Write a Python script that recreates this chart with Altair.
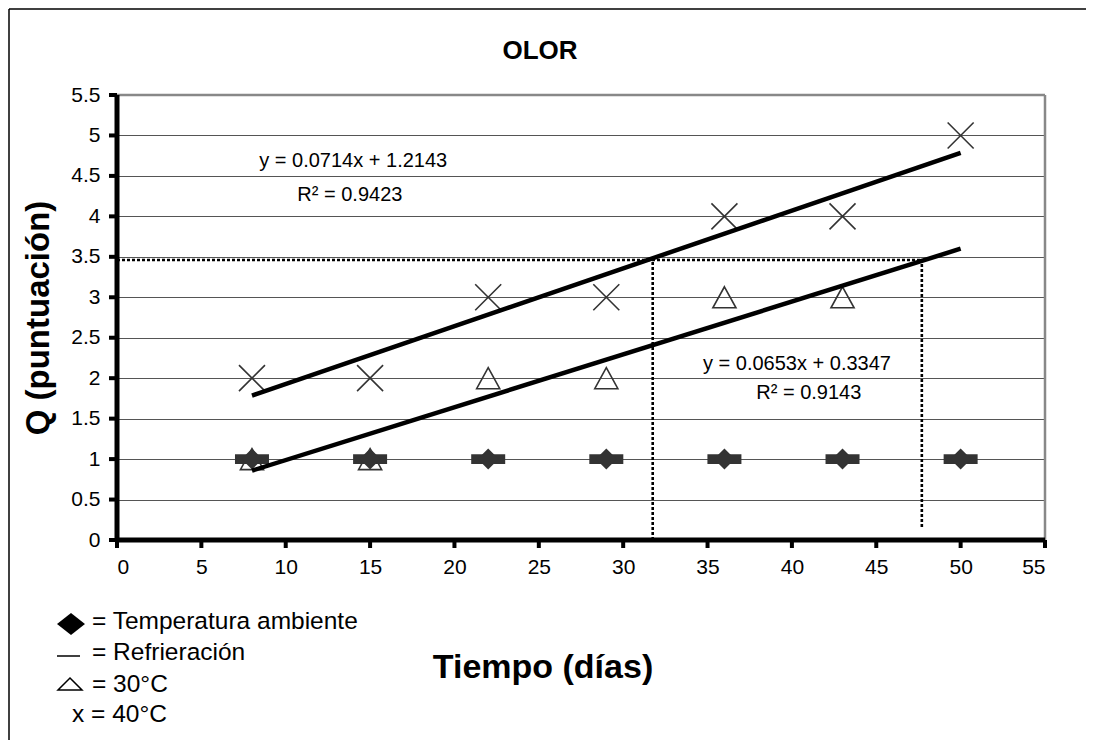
import altair as alt
import pandas as pd

# ---- data ----
dias = [8, 15, 22, 29, 36, 43, 50]
q_ambiente = [1, 1, 1, 1, 1, 1, 1]
q_refrigeracion = [1, 1, 1, 1, 1, 1, 1]
dias_30 = [8, 15, 22, 29, 36, 43]
q_30 = [1, 1, 2, 2, 3, 3]
dias_40 = [8, 15, 22, 29, 36, 43, 50]
q_40 = [2, 2, 3, 3, 4, 4, 5]

x_ticks = [0, 5, 10, 15, 20, 25, 30, 35, 40, 45, 50, 55]
y_ticks = [0, 0.5, 1, 1.5, 2, 2.5, 3, 3.5, 4, 4.5, 5, 5.5]

eq_labels = ["y = 0.0714x + 1.2143", "R² = 0.9423", "y = 0.0653x + 0.3347", "R² = 0.9143"]
eq_x = [14.0, 13.8, 40.3, 41.0]
eq_y = [4.68, 4.26, 2.18, 1.82]

guide_x = [0, 31.75, 47.7]
guide_x2 = [47.7, 31.75, 47.7]
guide_y = [3.46, 0, 0.16]
guide_y2 = [3.46, 3.46, 3.46]

x_min, x_max = 0, 55
y_min, y_max = 0, 5.5

legend_labels = ["= Temperatura ambiente", "= Refrieración", "= 30°C", "x = 40°C"]

FONT = "Liberation Sans"
DARK = "#333333"

df_amb = pd.DataFrame({"dia": dias, "q": q_ambiente})
df_ref = pd.DataFrame({"dia": dias, "q": q_refrigeracion})
df_30 = pd.DataFrame({"dia": dias_30, "q": q_30})
df_40 = pd.DataFrame({"dia": dias_40, "q": q_40})
df_eq = pd.DataFrame({"t": eq_labels, "x": eq_x, "y": eq_y})
df_guide = pd.DataFrame({"x": guide_x, "x2": guide_x2, "y": guide_y, "y2": guide_y2})
df_xt = pd.DataFrame({"v": x_ticks})
df_yt = pd.DataFrame({"v": y_ticks})
df_xline = pd.DataFrame({"x0": [x_min], "x1": [x_max], "y0": [y_min]})
df_yline = pd.DataFrame({"x0": [x_min], "y0": [y_min], "y1": [y_max]})

xs = alt.Scale(domain=[x_min, x_max], nice=False, zero=False)
ys = alt.Scale(domain=[y_min, y_max], nice=False, zero=False)

axis_common = dict(
    domain=False, ticks=True, tickColor="transparent", tickSize=8,
    labelFont=FONT, labelFontSize=21, labelColor="black",
    labelExpr="datum.value",
)
xaxis = alt.Axis(values=x_ticks, grid=False, labelPadding=8, **axis_common)
yaxis = alt.Axis(values=y_ticks, grid=True, gridColor="#555555", gridWidth=1,
                 labelPadding=9, **axis_common)


def X(f):
    return alt.X(f, type="quantitative", scale=xs, axis=xaxis, title=None)


def Y(f):
    return alt.Y(f, type="quantitative", scale=ys, axis=yaxis, title=None)


X_PATH = "M-1,-1L1,1M-1,1L1,-1"
TRI_PATH = "M0,-1L1.1,1L-1.1,1Z"
DIA_PATH = "M0,-1L1,0L0,1L-1,0Z"
BAR_PATH = "M-1,-0.29L1,-0.29L1,0.29L-1,0.29Z"

# gray frame (top & right)
frame_r = alt.Chart(df_yline).mark_rule(color="#888888", strokeWidth=2.5).encode(
    x=alt.value(928), y=Y("y0"), y2="y1")
frame_t = alt.Chart(df_xline).mark_rule(color="#888888", strokeWidth=2.5).encode(
    x=X("x0"), x2="x1", y=alt.value(0))

guides = alt.Chart(df_guide).mark_rule(
    color="black", strokeWidth=2.6, strokeDash=[3, 2]
).encode(x=X("x"), x2="x2", y=Y("y"), y2="y2")

tri = alt.Chart(df_30).mark_point(
    shape=TRI_PATH, size=441, filled=False, stroke=DARK, strokeWidth=1.6, opacity=1
).encode(x=X("dia"), y=Y("q"))

xs40 = alt.Chart(df_40).mark_point(
    shape=X_PATH, size=676, filled=False, stroke=DARK, strokeWidth=1.6, opacity=1
).encode(x=X("dia"), y=Y("q"))

bars = alt.Chart(df_ref).mark_point(
    shape=BAR_PATH, size=1156, filled=True, fill=DARK, strokeWidth=0, opacity=1
).encode(x=X("dia"), y=Y("q"))

dia = alt.Chart(df_amb).mark_point(
    shape=DIA_PATH, size=441, filled=True, fill=DARK, strokeWidth=0, opacity=1
).encode(x=X("dia"), y=Y("q"))

reg40 = alt.Chart(df_40).transform_regression(
    "dia", "q", extent=[8, 50]
).mark_line(color="black", strokeWidth=4.5).encode(x=X("dia"), y=Y("q"))

reg30 = alt.Chart(df_30).transform_regression(
    "dia", "q", extent=[8, 50]
).mark_line(color="black", strokeWidth=4.5).encode(x=X("dia"), y=Y("q"))

eqs = alt.Chart(df_eq).mark_text(
    font=FONT, fontSize=20, color="black", align="center", baseline="middle"
).encode(x=X("x"), y=Y("y"), text="t")

# thick black axis lines and outward ticks
axis_x_line = alt.Chart(df_xline).mark_rule(color="black", strokeWidth=5).encode(
    x=X("x0"), x2="x1", y=alt.value(445))
axis_y_line = alt.Chart(df_yline).mark_rule(color="black", strokeWidth=5).encode(
    x=alt.value(0), y=Y("y0"), y2="y1")
xtick_marks = alt.Chart(df_xt).mark_rule(color="black", strokeWidth=4).encode(
    x=X("v"), y=alt.value(445), y2=alt.value(453))
ytick_marks = alt.Chart(df_yt).mark_rule(color="black", strokeWidth=4).encode(
    y=Y("v"), x=alt.value(-8), x2=alt.value(0))

# ---- decorations in pixel space (plot origin at page 117,95) ----
ox, oy = 117, 95


def px(v):
    return alt.value(v - ox)


def py(v):
    return alt.value(v - oy)


title = alt.Chart(pd.DataFrame({"t": ["OLOR"]})).mark_text(
    font=FONT, fontSize=26, fontWeight="bold", color="black", align="center", baseline="middle"
).encode(x=px(540), y=py(51), text="t")

xtitle = alt.Chart(pd.DataFrame({"t": ["Tiempo (días)"]})).mark_text(
    font=FONT, fontSize=34, fontWeight="bold", color="black", align="center", baseline="middle"
).encode(x=px(543), y=py(668), text="t")

ytitle = alt.Chart(pd.DataFrame({"t": ["Q (puntuación)"]})).mark_text(
    font=FONT, fontSize=33, fontWeight="bold", color="black", align="center", baseline="middle", angle=270
).encode(x=px(39), y=py(318), text="t")

df_leg = pd.DataFrame({"t": legend_labels})
leg_text = alt.layer(
    *[
        alt.Chart(df_leg.iloc[[i]]).mark_text(
            font=FONT, fontSize=24.5, color="black", align="left", baseline="middle"
        ).encode(x=px(lx), y=py(ly), text="t")
        for i, (lx, ly) in enumerate([(92, 622), (92, 653), (92, 685), (72, 715)])
    ]
)

one = pd.DataFrame({"k": [0]})
leg_dia = alt.Chart(one).mark_point(
    shape="M-1.27,0L0,-1L1.27,0L0,1Z", size=484, filled=True, fill="black", strokeWidth=0, opacity=1
).encode(x=px(71), y=py(624))
leg_line = alt.Chart(one).mark_rule(color="black", strokeWidth=1.5).encode(
    x=px(57), x2=px(80), y=py(656)
)
leg_tri = alt.Chart(one).mark_point(
    shape="M0,-1L2,1L-2,1Z", size=144, filled=False, stroke="black", strokeWidth=1.5, opacity=1
).encode(x=px(70), y=py(684))

border_top = alt.Chart(one).mark_rule(color="black", strokeWidth=1.5).encode(
    x=px(9), x2=px(1200), y=py(9)
)
border_left = alt.Chart(one).mark_rule(color="black", strokeWidth=1.5).encode(
    x=px(9), y=py(9), y2=py(800)
)

chart = alt.layer(
    frame_r, frame_t, guides, tri, xs40, bars, dia, reg40, reg30, eqs,
    axis_x_line, axis_y_line, xtick_marks, ytick_marks,
    title, xtitle, ytitle, leg_text, leg_dia, leg_line, leg_tri, border_top, border_left
).properties(
    width=928, height=445,
    autosize=alt.AutoSizeParams(type="none"),
    padding={"left": 109, "top": 87, "right": 41, "bottom": 200},
).configure_view(
    stroke=None
)

chart.save("out.html", embed_options={"renderer": "svg", "actions": False})
